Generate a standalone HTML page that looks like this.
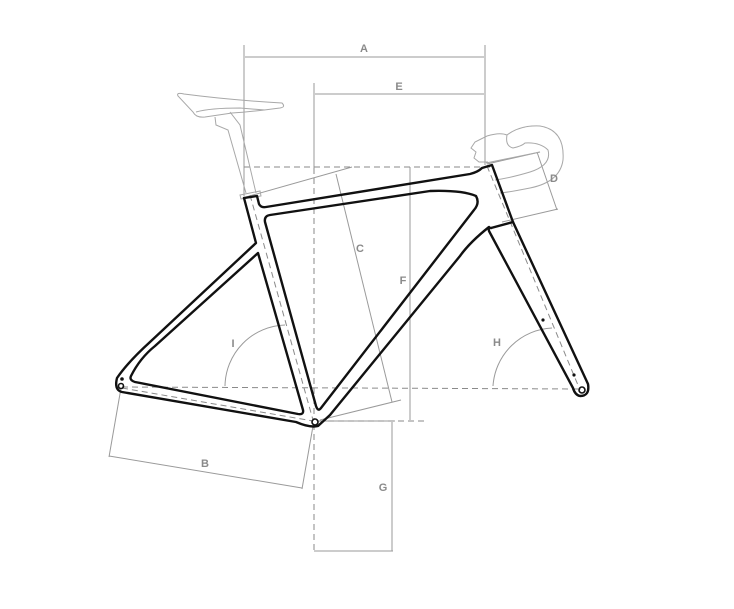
<!DOCTYPE html>
<html><head><meta charset="utf-8"><style>
html,body{margin:0;padding:0;background:#fff;width:734px;height:609px;overflow:hidden}
text{font-family:"Liberation Sans",sans-serif;font-weight:bold;font-size:11px;fill:#8a8a8a;text-anchor:middle}
</style></head><body>
<svg width="734" height="609" viewBox="0 0 734 609" xmlns="http://www.w3.org/2000/svg">
<g stroke="#9a9a9a" stroke-width="1" fill="none">
<line x1="244" y1="45" x2="244" y2="196"/><line x1="485" y1="45" x2="485" y2="165"/>
<line x1="245" y1="57" x2="484" y2="57"/>
<line x1="314" y1="83" x2="314" y2="168"/>
<line x1="315" y1="94" x2="484" y2="94"/>
<line x1="410" y1="167" x2="410" y2="420"/>
<line x1="336" y1="174" x2="392" y2="402"/>
<line x1="246" y1="197" x2="352" y2="167"/>
<line x1="320" y1="420" x2="401" y2="400"/>
<line x1="537" y1="152" x2="557" y2="210"/>
<line x1="487" y1="164" x2="540" y2="152"/>
<line x1="502" y1="222" x2="558" y2="209"/>
<line x1="121" y1="388" x2="109" y2="457"/>
<line x1="313" y1="426" x2="302" y2="489"/>
<line x1="109" y1="456" x2="302" y2="488"/>
<line x1="318" y1="421" x2="395" y2="421"/>
<line x1="392" y1="422" x2="392" y2="551"/>
<line x1="314" y1="551" x2="393" y2="551"/>
<path d="M225 386 A62 62 0 0 1 285 325"/>
<path d="M493 386 A62 62 0 0 1 552 328"/>
</g>
<g stroke="#8a8a8a" stroke-width="1" fill="none" stroke-dasharray="6,4">
<line x1="244" y1="167" x2="492" y2="167"/>
<line x1="314" y1="168" x2="314" y2="420"/>
<line x1="314" y1="424" x2="314" y2="550"/>
<line x1="318" y1="421" x2="428" y2="421"/>
<line x1="122" y1="387" x2="580" y2="389"/>
<line x1="250" y1="195" x2="313" y2="420"/>
<line x1="122" y1="388" x2="313" y2="421"/>
<line x1="487" y1="166" x2="580" y2="390"/>
</g>
<g stroke="#a8a8a8" stroke-width="1" fill="none">
<path d="M178 96 Q176 92 184 94 Q230 100 282 103 Q286 107 280 108 Q250 112 232 113 L205 117 Q196 118 193 112 Z"/>
<path d="M196 112 Q210 108 240 108 L265 110"/>
<path d="M215 117 L216 125 L228 130 L246 193"/>
<path d="M230 112 L240 125 L256 193"/>
<path d="M240 195 L260 191 L261 196 L241 199 Z"/>
<path d="M487 136 L475 142 L471 148 L476 152 L474 158 L479 162 L488 162"/>
<path d="M487 136 Q500 132 507 135 Q505 146 513 148 Q522 146 525 143 Q540 142 548 150 Q552 165 530 172 Q510 178 495 180"/>
<path d="M507 135 Q520 125 540 126 Q565 130 563 160 Q560 182 530 188 Q510 192 500 193"/>
<path d="M486 163 L540 152"/>
</g>
<g stroke="#111" stroke-width="2.4" fill="none" stroke-linejoin="round" stroke-linecap="round">
<path d="M244 198 L256 243 L150 342 Q128 362 117 378 Q114 390 122 392 L296 422 Q310 428 318 426 L330 415 L460 256 Q470 242 489 227"/>
<path d="M244 198 L257 196 L259 204 Q261 208 266 207 L470 174 Q478 172 482 168 L492 165 L513 222 L491 228"/>
<path d="M513 222 L588 384 Q590 396 580 396 Q575 395 573 388 L489 231 Q488 227 491 228"/>
<path d="M270 215 L430 191 Q462 190 476 196 Q480 203 474 210 L321 408 Q318 412 316 406 L265 222 Q264 216 270 215 Z"/>
<path d="M258 253 L303 410 Q304 415 298 414 L135 382 Q129 380 131 376 Q140 358 155 346 Z"/>
</g>
<g fill="none" stroke="#111" stroke-width="1.6">
<circle cx="315" cy="422" r="3"/><circle cx="121" cy="386" r="2.5"/><circle cx="582" cy="390" r="3"/>
</g>
<circle cx="122" cy="379" r="1.8" fill="#111"/>
<circle cx="543" cy="320" r="1.6" fill="#111"/>
<circle cx="574" cy="375" r="1.6" fill="#111"/>
<text x="364" y="52">A</text>
<text x="399" y="90">E</text>
<text x="360" y="252">C</text>
<text x="403" y="284">F</text>
<text x="554" y="182">D</text>
<text x="233" y="347">I</text>
<text x="497" y="346">H</text>
<text x="205" y="467">B</text>
<text x="383" y="491">G</text>
</svg>
</body></html>
